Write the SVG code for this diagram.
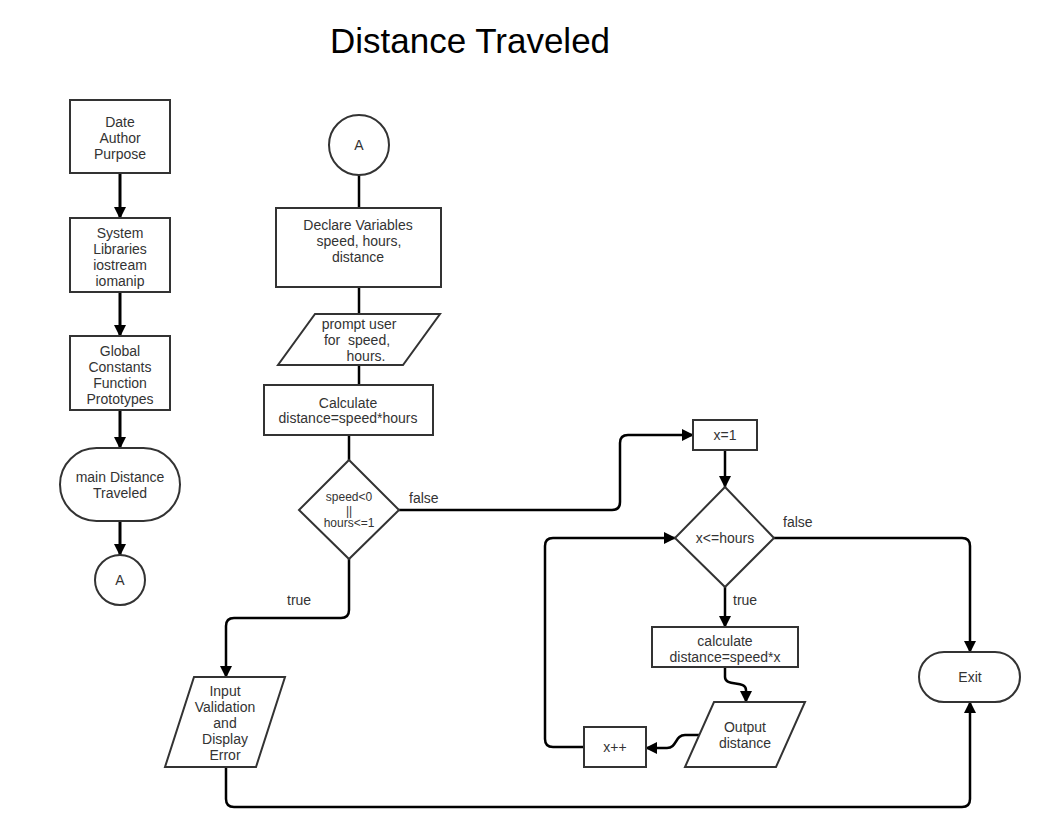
<svg xmlns="http://www.w3.org/2000/svg" width="1046" height="832" viewBox="0 0 1046 832">
<style>
.n{fill:#fff;stroke:#333;stroke-width:2}
.t{font-family:"Liberation Sans",Arial,sans-serif;font-size:14px;fill:#333;text-anchor:middle}
.s{font-size:12px}
.l{font-family:"Liberation Sans",Arial,sans-serif;font-size:14px;fill:#333}
.c{fill:none;stroke:#000;stroke-width:2.5}
.k{stroke-width:3}
</style>
<defs>
<marker id="ah" viewBox="0 0 12 12" refX="11" refY="6" markerWidth="12" markerHeight="12" orient="auto" markerUnits="userSpaceOnUse"><path d="M0,0 L12,6 L0,12 z" fill="#000"/></marker>
</defs>
<rect width="1046" height="832" fill="#fff"/>
<text x="470" y="53" style="font-family:'Liberation Sans',Arial,sans-serif;font-size:35px;fill:#000;text-anchor:middle">Distance Traveled</text>

<g id="connectors">
<path class="c k" d="M120,173 V218" marker-end="url(#ah)"/>
<path class="c k" d="M120,292 V336" marker-end="url(#ah)"/>
<path class="c k" d="M120,410 V448" marker-end="url(#ah)"/>
<path class="c k" d="M120,521 V555" marker-end="url(#ah)"/>
<path class="c" d="M359,175 V208"/>
<path class="c" d="M359,287 V314"/>
<path class="c" d="M359,365 V385"/>
<path class="c" d="M349,435 V460"/>
<path class="c" d="M349,559 V610 Q349,618 341,618 H234 Q226,618 226,626 V677" marker-end="url(#ah)"/>
<path class="c" d="M399,510 H612 Q620,510 620,502 V443 Q620,435 628,435 H693" marker-end="url(#ah)"/>
<path class="c" d="M725,450 V487" marker-end="url(#ah)"/>
<path class="c" d="M774,538 H962 Q970,538 970,546 V652" marker-end="url(#ah)"/>
<path class="c" d="M725,587 V627" marker-end="url(#ah)"/>
<path class="c" d="M725,667 V677 C725,687 746,680 746,690 V702" marker-end="url(#ah)"/>
<path class="c" d="M699,735 H685 C675,735 677,748 667,748 H646" marker-end="url(#ah)"/>
<path class="c" d="M584,747 H553 Q545,747 545,739 V546 Q545,538 553,538 H675" marker-end="url(#ah)"/>
<path class="c" d="M226,767 V799 Q226,807 234,807 H962 Q970,807 970,799 V702" marker-end="url(#ah)"/>
<text class="l" x="409" y="503">false</text>
<text class="l" x="287" y="605">true</text>
<text class="l" x="783" y="527">false</text>
<text class="l" x="733" y="605">true</text>
</g>

<g id="header">
<rect class="n" x="70" y="100" width="100" height="73"/>
<text class="t"><tspan x="120" y="127">Date</tspan><tspan x="120" y="143">Author</tspan><tspan x="120" y="159">Purpose</tspan></text>
</g>
<g id="libraries">
<rect class="n" x="70" y="218" width="100" height="74"/>
<text class="t"><tspan x="120" y="238">System</tspan><tspan x="120" y="254">Libraries</tspan><tspan x="120" y="270">iostream</tspan><tspan x="120" y="286">iomanip</tspan></text>
</g>
<g id="globals">
<rect class="n" x="70" y="336" width="100" height="74"/>
<text class="t"><tspan x="120" y="356">Global</tspan><tspan x="120" y="372">Constants</tspan><tspan x="120" y="388">Function</tspan><tspan x="120" y="404">Prototypes</tspan></text>
</g>
<g id="main">
<rect class="n" x="60" y="448" width="120" height="73" rx="36.5"/>
<text class="t"><tspan x="120" y="482">main Distance</tspan><tspan x="120" y="498">Traveled</tspan></text>
</g>
<g id="connA1">
<circle class="n" cx="120" cy="580" r="25"/>
<text class="t" x="120" y="585">A</text>
</g>
<g id="connA2">
<circle class="n" cx="359" cy="145" r="30"/>
<text class="t" x="359" y="150">A</text>
</g>
<g id="declare">
<rect class="n" x="276" y="208" width="165" height="79"/>
<text class="t"><tspan x="358" y="230">Declare Variables</tspan><tspan x="359" y="246">speed, hours,</tspan><tspan x="358" y="262">distance</tspan></text>
</g>
<g id="prompt">
<polygon class="n" points="315,314 440,314 403,365 278,365"/>
<text class="t" xml:space="preserve"><tspan x="359" y="329">prompt user</tspan><tspan x="357" y="345">for  speed,</tspan><tspan x="366" y="361">hours.</tspan></text>
</g>
<g id="calc">
<rect class="n" x="264" y="385" width="169" height="50"/>
<text class="t"><tspan x="348" y="408">Calculate</tspan><tspan x="348" y="423">distance=speed*hours</tspan></text>
</g>
<g id="check">
<polygon class="n" points="349,460 399,510 349,559 299,510"/>
<text class="t s"><tspan x="349" y="501">speed&lt;0</tspan><tspan x="349" y="515">||</tspan><tspan x="349" y="527">hours&lt;=1</tspan></text>
</g>
<g id="error">
<polygon class="n" points="194,677 285,677 256,767 165,767"/>
<text class="t"><tspan x="225" y="696">Input</tspan><tspan x="225" y="712">Validation</tspan><tspan x="225" y="728">and</tspan><tspan x="225" y="744">Display</tspan><tspan x="225" y="760">Error</tspan></text>
</g>
<g id="init">
<rect class="n" x="693" y="420" width="64" height="30"/>
<text class="t" x="725" y="440">x=1</text>
</g>
<g id="loopcheck">
<polygon class="n" points="725,487 774,538 725,587 675,538"/>
<text class="t" x="725" y="543">x&lt;=hours</text>
</g>
<g id="calcx">
<rect class="n" x="652" y="627" width="146" height="40"/>
<text class="t"><tspan x="725" y="646">calculate</tspan><tspan x="725" y="662">distance=speed*x</tspan></text>
</g>
<g id="output">
<polygon class="n" points="714,702 805,702 776,767 685,767"/>
<text class="t"><tspan x="745" y="732">Output</tspan><tspan x="745" y="748">distance</tspan></text>
</g>
<g id="incr">
<rect class="n" x="584" y="727" width="62" height="40"/>
<text class="t" x="615" y="752">x++</text>
</g>
<g id="exit">
<rect class="n" x="919" y="652" width="101" height="50" rx="25"/>
<text class="t" x="970" y="682">Exit</text>
</g>
</svg>
